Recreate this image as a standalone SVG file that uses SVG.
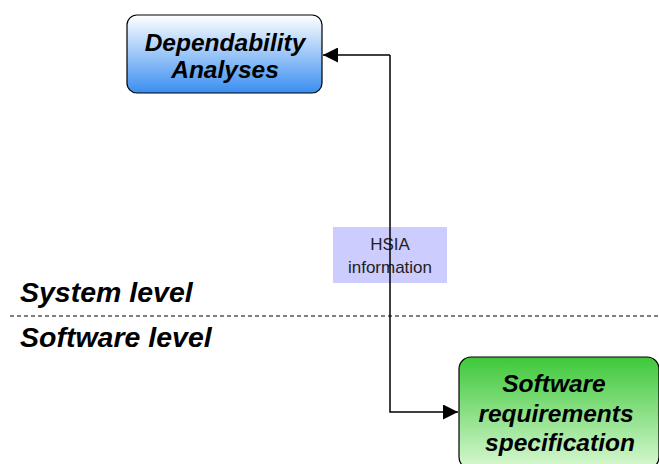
<svg xmlns="http://www.w3.org/2000/svg" width="659" height="464" viewBox="0 0 659 464">
<style>
.t{font-family:"Liberation Sans",Arial,sans-serif;font-weight:bold;font-style:italic;font-size:24.5px;fill:#000;text-anchor:middle}
.lvl{font-family:"Liberation Sans",Arial,sans-serif;font-weight:bold;font-style:italic;font-size:28.5px;fill:#000}
.lbl{font-family:"Liberation Sans",Arial,sans-serif;font-size:17px;fill:#222;text-anchor:middle}
.box{stroke:#000;stroke-width:1.2}
.conn{fill:none;stroke:#000;stroke-width:1.5}
</style>
<defs>
<linearGradient id="gb" x1="0" y1="0" x2="0" y2="1">
<stop offset="0" stop-color="#ffffff"/>
<stop offset="1" stop-color="#3a8ef0"/>
</linearGradient>
<linearGradient id="gg" x1="0" y1="0" x2="0" y2="1">
<stop offset="0" stop-color="#3ec83a"/>
<stop offset="1" stop-color="#d8f8d2"/>
</linearGradient>
<marker id="ah" viewBox="0 0 10 10" refX="10" refY="5" markerWidth="15" markerHeight="15" markerUnits="userSpaceOnUse" orient="auto">
<path d="M0,0 L10,5 L0,10 z" fill="#000"/>
</marker>
</defs>
<rect width="659" height="464" fill="#fff"/>
<g id="levels">
<text class="lvl" x="20" y="302">System level</text>
<line x1="10" y1="316" x2="659" y2="316" stroke="#000" stroke-width="1" stroke-dasharray="4,3"/>
<text class="lvl" x="20" y="347">Software level</text>
</g>
<g id="hsia-label">
<rect x="333" y="227" width="114" height="56" fill="#ccccff"/>
<text class="lbl" x="390" y="250">HSIA</text>
<text class="lbl" x="390" y="273">information</text>
</g>
<g id="dependability">
<rect class="box" x="127" y="15" width="195" height="78" rx="10" fill="url(#gb)"/>
<text class="t" x="225" y="51">Dependability</text>
<text class="t" x="225" y="78">Analyses</text>
</g>
<g id="software-req">
<rect class="box" x="459" y="357" width="200" height="112" rx="12" fill="url(#gg)"/>
<text class="t" x="554" y="392">Software</text>
<text class="t" x="556" y="422">requirements</text>
<text class="t" x="560" y="451">specification</text>
</g>
<g id="connectors">
<path class="conn" d="M390,55 L390,412 L458,412" marker-end="url(#ah)"/>
<path class="conn" d="M390,55 L323,55" marker-end="url(#ah)"/>
</g>
</svg>
